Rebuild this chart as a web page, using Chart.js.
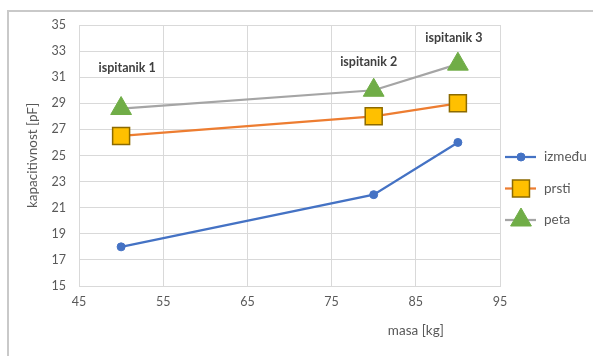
<!DOCTYPE html>
<html>
<head>
<meta charset="utf-8">
<script src="https://cdn.jsdelivr.net/npm/chart.js@4.4.1/dist/chart.umd.min.js"></script>
<style>
  html, body { margin: 0; padding: 0; background: #fff; overflow: hidden; }
  body { width: 593px; height: 356px; position: relative; }
  #frame { position: absolute; left: 7px; top: 10px; width: 640px; height: 400px;
           border-left: 2px solid #c9c9c9; border-top: 2px solid #c9c9c9; box-sizing: border-box; }
  #wrap { position: absolute; left: 0; top: 0; width: 593px; height: 356px; }
</style>
</head>
<body>
<div id="frame"></div>
<div id="wrap"><canvas id="c" width="593" height="356"></canvas></div>
<script>
// ---- data ----
const masa = [50, 80, 90];
const izmedju = [18, 22, 26];
const prsti = [26.5, 28, 29];
const peta = [28.6, 30, 32];
const seriesNames = ['između', 'prsti', 'peta'];
const pointLabels = ['ispitanik 1', 'ispitanik 2', 'ispitanik 3'];
const xAxisTitle = 'masa [kg]';
const yAxisTitle = 'kapacitivnost [pF]';

const FONT = 'Lato, "Open Sans", sans-serif';
const TXT = '#595959';

const toXY = vals => masa.map((m, i) => ({ x: m, y: vals[i] }));

function drawMarker(ctx, style, x, y, r, fill, stroke, bw) {
  ctx.save();
  ctx.fillStyle = fill; ctx.strokeStyle = stroke; ctx.lineWidth = bw;
  ctx.beginPath();
  if (style === 'circle') {
    ctx.arc(x, y, r, 0, Math.PI * 2);
  } else if (style === 'rect') {
    const s = r * Math.SQRT1_2;
    ctx.rect(x - s, y - s, 2 * s, 2 * s);
  } else if (style === 'triangle') {
    const dx = r * Math.sin(Math.PI / 3), dy = r * 0.5;
    ctx.moveTo(x, y - r); ctx.lineTo(x - dx, y + dy); ctx.lineTo(x + dx, y + dy); ctx.closePath();
  }
  ctx.fill();
  if (bw > 0) ctx.stroke();
  ctx.restore();
}

const extras = {
  id: 'extras',
  afterDatasetsDraw(chart, args, opts) {
    const ctx = chart.ctx;
    const ca = chart.chartArea;
    // point labels on "peta"
    const meta = chart.getDatasetMeta(2);
    ctx.save();
    ctx.font = 'bold 12.5px ' + FONT;
    ctx.fillStyle = '#404040';
    ctx.textAlign = 'center';
    ctx.textBaseline = 'middle';
    meta.data.forEach((pt, i) => {
      const off = opts.labelOffsets[i];
      ctx.fillText(pointLabels[i], pt.x + off[0], pt.y + off[1]);
    });
    ctx.restore();

    // axis titles
    ctx.save();
    ctx.font = '13.5px ' + FONT;
    ctx.fillStyle = TXT;
    ctx.textAlign = 'center';
    ctx.textBaseline = 'middle';
    ctx.fillText(xAxisTitle, ca.left + (ca.right - ca.left) * 0.8, 331);
    ctx.translate(33, (ca.top + ca.bottom) / 2);
    ctx.rotate(-Math.PI / 2);
    ctx.fillText(yAxisTitle, 0, 0);
    ctx.restore();

    // legend
    ctx.save();
    ctx.font = '13.5px ' + FONT;
    ctx.textBaseline = 'middle';
    ctx.textAlign = 'left';
    chart.data.datasets.forEach((ds, i) => {
      const y = opts.legendTop + i * opts.legendGap;
      const x0 = opts.legendX;
      ctx.strokeStyle = ds.borderColor;
      ctx.lineWidth = ds.borderWidth;
      ctx.beginPath(); ctx.moveTo(x0, y); ctx.lineTo(x0 + 31, y); ctx.stroke();
      drawMarker(ctx, ds.pointStyle, x0 + 16, y, ds.pointRadius, ds.pointBackgroundColor,
                 ds.pointBorderColor, ds.pointBorderWidth);
      ctx.fillStyle = TXT;
      ctx.fillText(ds.label, x0 + 39, y);
    });
    ctx.restore();
  }
};

new Chart(document.getElementById('c'), {
  type: 'line',
  data: {
    datasets: [
      { label: seriesNames[0], data: toXY(izmedju), borderColor: '#4472C4', borderWidth: 2.25,
        pointStyle: 'circle', pointRadius: 4, pointBackgroundColor: '#4472C4',
        pointBorderColor: '#4472C4', pointBorderWidth: 1 },
      { label: seriesNames[1], data: toXY(prsti), borderColor: '#ED7D31', borderWidth: 2.25,
        pointStyle: 'rect', pointRadius: 12, pointBackgroundColor: '#FFC000',
        pointBorderColor: '#8C6A00', pointBorderWidth: 1.5 },
      { label: seriesNames[2], data: toXY(peta), borderColor: '#A5A5A5', borderWidth: 2.25,
        pointStyle: 'triangle', pointRadius: 12, pointBackgroundColor: '#70AD47',
        pointBorderColor: '#70AD47', pointBorderWidth: 1 }
    ]
  },
  options: {
    responsive: false,
    animation: false,
    devicePixelRatio: 1,
    layout: { padding: { left: 0, right: 93, top: 25, bottom: 0 } },
    plugins: {
      legend: { display: false },
      tooltip: { enabled: false },
      extras: { labelOffsets: [[6, -41], [-5, -28], [-4, -26]], legendX: 505, legendTop: 157, legendGap: 31.5 }
    },
    scales: {
      x: {
        type: 'linear', min: 45, max: 95,
        afterFit: s => { s.height = 70; },
        ticks: { stepSize: 10, padding: 8, color: TXT, font: { family: FONT, size: 12.5 } },
        grid: { color: '#D9D9D9', drawTicks: false },
        border: { color: '#D9D9D9' }
      },
      y: {
        type: 'linear', min: 15, max: 35,
        afterFit: s => { s.width = 79; },
        ticks: { stepSize: 2, padding: 13, color: TXT, font: { family: FONT, size: 12.5 } },
        grid: { color: '#D9D9D9', drawTicks: false },
        border: { color: '#D9D9D9' }
      }
    }
  },
  plugins: [extras]
});
</script>
</body>
</html>
